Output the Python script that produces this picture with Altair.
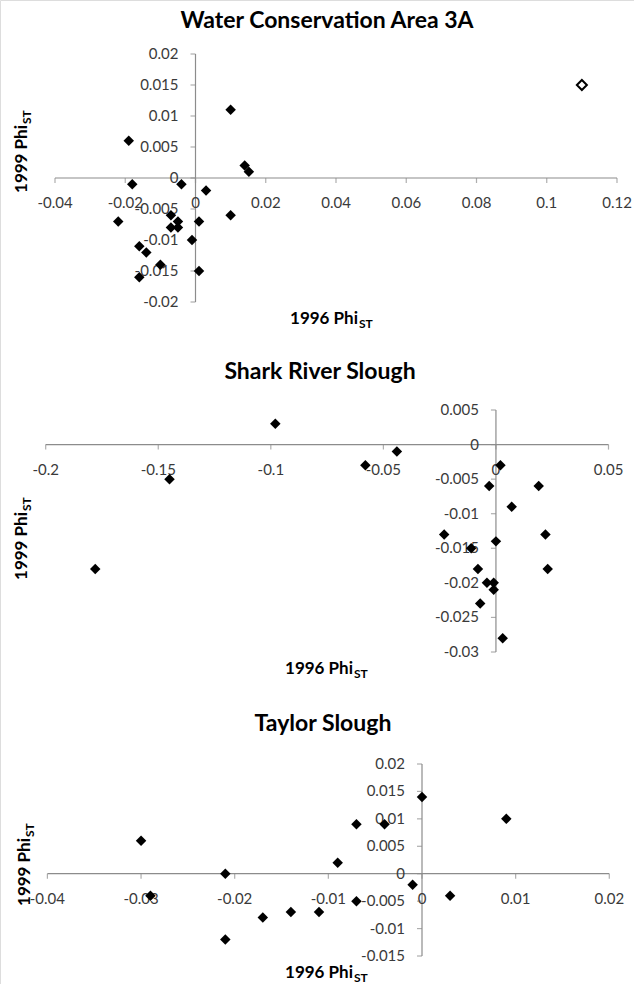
import altair as alt
import pandas as pd

FONT = "Lato"
AXIS_COLOR = "#8c8c8c"
LABEL_COLOR = "#3a3a3a"

# ---------------- data ----------------
# Panel 1: Water Conservation Area 3A
p1_title = "Water Conservation Area 3A"
p1_x = [0.010, -0.019, 0.014, 0.0152, -0.018, -0.004, 0.003, -0.022, -0.007, -0.005,
        -0.007, -0.005, 0.001, 0.010, -0.001, -0.016, -0.014, -0.010, 0.001, -0.016]
p1_y = [0.011, 0.006, 0.002, 0.001, -0.001, -0.001, -0.002, -0.007, -0.006, -0.007,
        -0.008, -0.008, -0.007, -0.006, -0.010, -0.011, -0.012, -0.014, -0.015, -0.016]
p1_open_x = [0.110]
p1_open_y = [0.015]
p1_xticks = [-0.04, -0.02, 0, 0.02, 0.04, 0.06, 0.08, 0.1, 0.12]
p1_yticks = [-0.02, -0.015, -0.01, -0.005, 0, 0.005, 0.01, 0.015, 0.02]

# Panel 2: Shark River Slough
p2_title = "Shark River Slough"
p2_x = [-0.098, -0.044, -0.058, -0.145, -0.178, 0.002, -0.003, 0.019, 0.007, -0.023,
        0.022, 0.000, -0.011, -0.008, 0.023, -0.004, -0.001, -0.001, -0.007, 0.003]
p2_y = [0.003, -0.001, -0.003, -0.005, -0.018, -0.003, -0.006, -0.006, -0.009, -0.013,
        -0.013, -0.014, -0.015, -0.018, -0.018, -0.020, -0.020, -0.021, -0.023, -0.028]
p2_open_x = []
p2_open_y = []
p2_xticks = [-0.2, -0.15, -0.1, -0.05, 0, 0.05]
p2_yticks = [-0.03, -0.025, -0.02, -0.015, -0.01, -0.005, 0, 0.005]

# Panel 3: Taylor Slough
p3_title = "Taylor Slough"
p3_x = [-0.030, -0.029, -0.021, -0.021, -0.017, -0.014, -0.011, -0.009, -0.007, -0.007,
        -0.004, 0.000, -0.001, 0.003, 0.009]
p3_y = [0.006, -0.004, 0.000, -0.012, -0.008, -0.007, -0.007, 0.002, 0.009, -0.005,
        0.009, 0.014, -0.002, -0.004, 0.010]
p3_open_x = []
p3_open_y = []
p3_xticks = [-0.04, -0.03, -0.02, -0.01, 0, 0.01, 0.02]
p3_yticks = [-0.015, -0.01, -0.005, 0, 0.005, 0.01, 0.015, 0.02]

x_title_main = "1996 Phi"
y_title_main = "1999 Phi"
sub_text = "ST"

# ---------------- layout (pixel geometry, style only) ----------------
layout = {
    1: dict(xr=[55, 617], yr=[302, 54], title_xy=(327, 21),
            xt=(358, 319), yt=(22, 125)),
    2: dict(xr=[45.7, 608.5], yr=[652, 410], title_xy=(320, 372),
            xt=(353, 669), yt=(22, 512)),
    3: dict(xr=[47.4, 609.3], yr=[956, 764], title_xy=(323, 724),
            xt=(353, 973), yt=(25, 838)),
}


def fmt(v):
    s = format(v, "g")
    return "0" if s in ("-0", "0.0") else s


def panel(k, title, xs_, ys_, ox, oy, xticks, yticks):
    L = layout[k]
    xsc = alt.Scale(domain=[min(xticks), max(xticks)], range=L["xr"], nice=False, zero=False)
    ysc = alt.Scale(domain=[min(yticks), max(yticks)], range=L["yr"], nice=False, zero=False)
    X = lambda f: alt.X(f, type="quantitative", scale=xsc, axis=None)
    Y = lambda f: alt.Y(f, type="quantitative", scale=ysc, axis=None)

    xaxis_df = pd.DataFrame({"a": [min(xticks)], "b": [max(xticks)], "z": [0]})
    yaxis_df = pd.DataFrame({"a": [min(yticks)], "b": [max(yticks)], "z": [0]})
    xt_df = pd.DataFrame({"v": xticks, "z": [0] * len(xticks), "lab": [fmt(v) for v in xticks]})
    yt_df = pd.DataFrame({"v": yticks, "z": [0] * len(yticks), "lab": [fmt(v) for v in yticks]})
    pts = pd.DataFrame({"x": xs_, "y": ys_})

    layers = []
    layers.append(alt.Chart(xaxis_df).mark_rule(color=AXIS_COLOR, strokeWidth=1.2)
                  .encode(x=X("a"), x2="b", y=Y("z")))
    layers.append(alt.Chart(yaxis_df).mark_rule(color=AXIS_COLOR, strokeWidth=1.2)
                  .encode(y=Y("a"), y2="b", x=X("z")))
    layers.append(alt.Chart(xt_df).mark_tick(orient="vertical", size=5, thickness=1.2,
                                             color=AXIS_COLOR, yOffset=2.5)
                  .encode(x=X("v"), y=Y("z")))
    layers.append(alt.Chart(yt_df).mark_tick(orient="horizontal", size=5, thickness=1.2,
                                             color=AXIS_COLOR, xOffset=-2.5)
                  .encode(y=Y("v"), x=X("z")))
    layers.append(alt.Chart(xt_df).mark_text(font=FONT, fontSize=15, color=LABEL_COLOR,
                                             align="center", baseline="middle", dy=25)
                  .encode(x=X("v"), y=Y("z"), text="lab:N"))
    layers.append(alt.Chart(yt_df).mark_text(font=FONT, fontSize=15, color=LABEL_COLOR,
                                             align="right", baseline="middle", dx=-17)
                  .encode(y=Y("v"), x=X("z"), text="lab:N"))
    layers.append(alt.Chart(pts).mark_point(shape="diamond", filled=True, color="black",
                                            size=110, opacity=1)
                  .encode(x=X("x"), y=Y("y")))
    if ox:
        opts = pd.DataFrame({"x": ox, "y": oy})
        layers.append(alt.Chart(opts).mark_point(shape="diamond", filled=False, fill="white",
                                                 stroke="black", strokeWidth=2, size=100,
                                                 opacity=1)
                      .encode(x=X("x"), y=Y("y")))
    # panel title
    tx, ty = L["title_xy"]
    layers.append(alt.Chart(pd.DataFrame({"t": [title]})).mark_text(
        font=FONT, fontSize=23, fontWeight="bold", color="black",
        align="center", baseline="middle")
        .encode(text="t:N", x=alt.value(tx), y=alt.value(ty)))
    # x axis title with subscript
    ax, ay = L["xt"]
    layers.append(alt.Chart(pd.DataFrame({"t": [x_title_main]})).mark_text(
        font=FONT, fontSize=17, fontWeight="bold", color="black",
        align="right", baseline="middle")
        .encode(text="t:N", x=alt.value(ax), y=alt.value(ay)))
    layers.append(alt.Chart(pd.DataFrame({"t": [sub_text]})).mark_text(
        font=FONT, fontSize=12, fontWeight="bold", color="black",
        align="left", baseline="middle", dx=1, dy=5)
        .encode(text="t:N", x=alt.value(ax), y=alt.value(ay)))
    # y axis title with subscript (rotated)
    bx, by = L["yt"]
    layers.append(alt.Chart(pd.DataFrame({"t": [y_title_main]})).mark_text(
        font=FONT, fontSize=17, fontWeight="bold", color="black",
        align="right", baseline="middle", angle=270)
        .encode(text="t:N", x=alt.value(bx), y=alt.value(by)))
    layers.append(alt.Chart(pd.DataFrame({"t": [sub_text]})).mark_text(
        font=FONT, fontSize=12, fontWeight="bold", color="black",
        align="left", baseline="middle", angle=270, dx=1, dy=5)
        .encode(text="t:N", x=alt.value(bx), y=alt.value(by)))
    return alt.layer(*layers)


p1 = panel(1, p1_title, p1_x, p1_y, p1_open_x, p1_open_y, p1_xticks, p1_yticks)
p2 = panel(2, p2_title, p2_x, p2_y, p2_open_x, p2_open_y, p2_xticks, p2_yticks)
p3 = panel(3, p3_title, p3_x, p3_y, p3_open_x, p3_open_y, p3_xticks, p3_yticks)

chart = (
    alt.layer(p1, p2, p3)
    .resolve_scale(x="independent", y="independent")
    .properties(width=634, height=984, padding=0,
                autosize=alt.AutoSizeParams(type="none"))
    .configure_view(stroke=None)
    .configure(background="white")
)

chart.save("out.html", embed_options={"renderer": "svg", "actions": False})
